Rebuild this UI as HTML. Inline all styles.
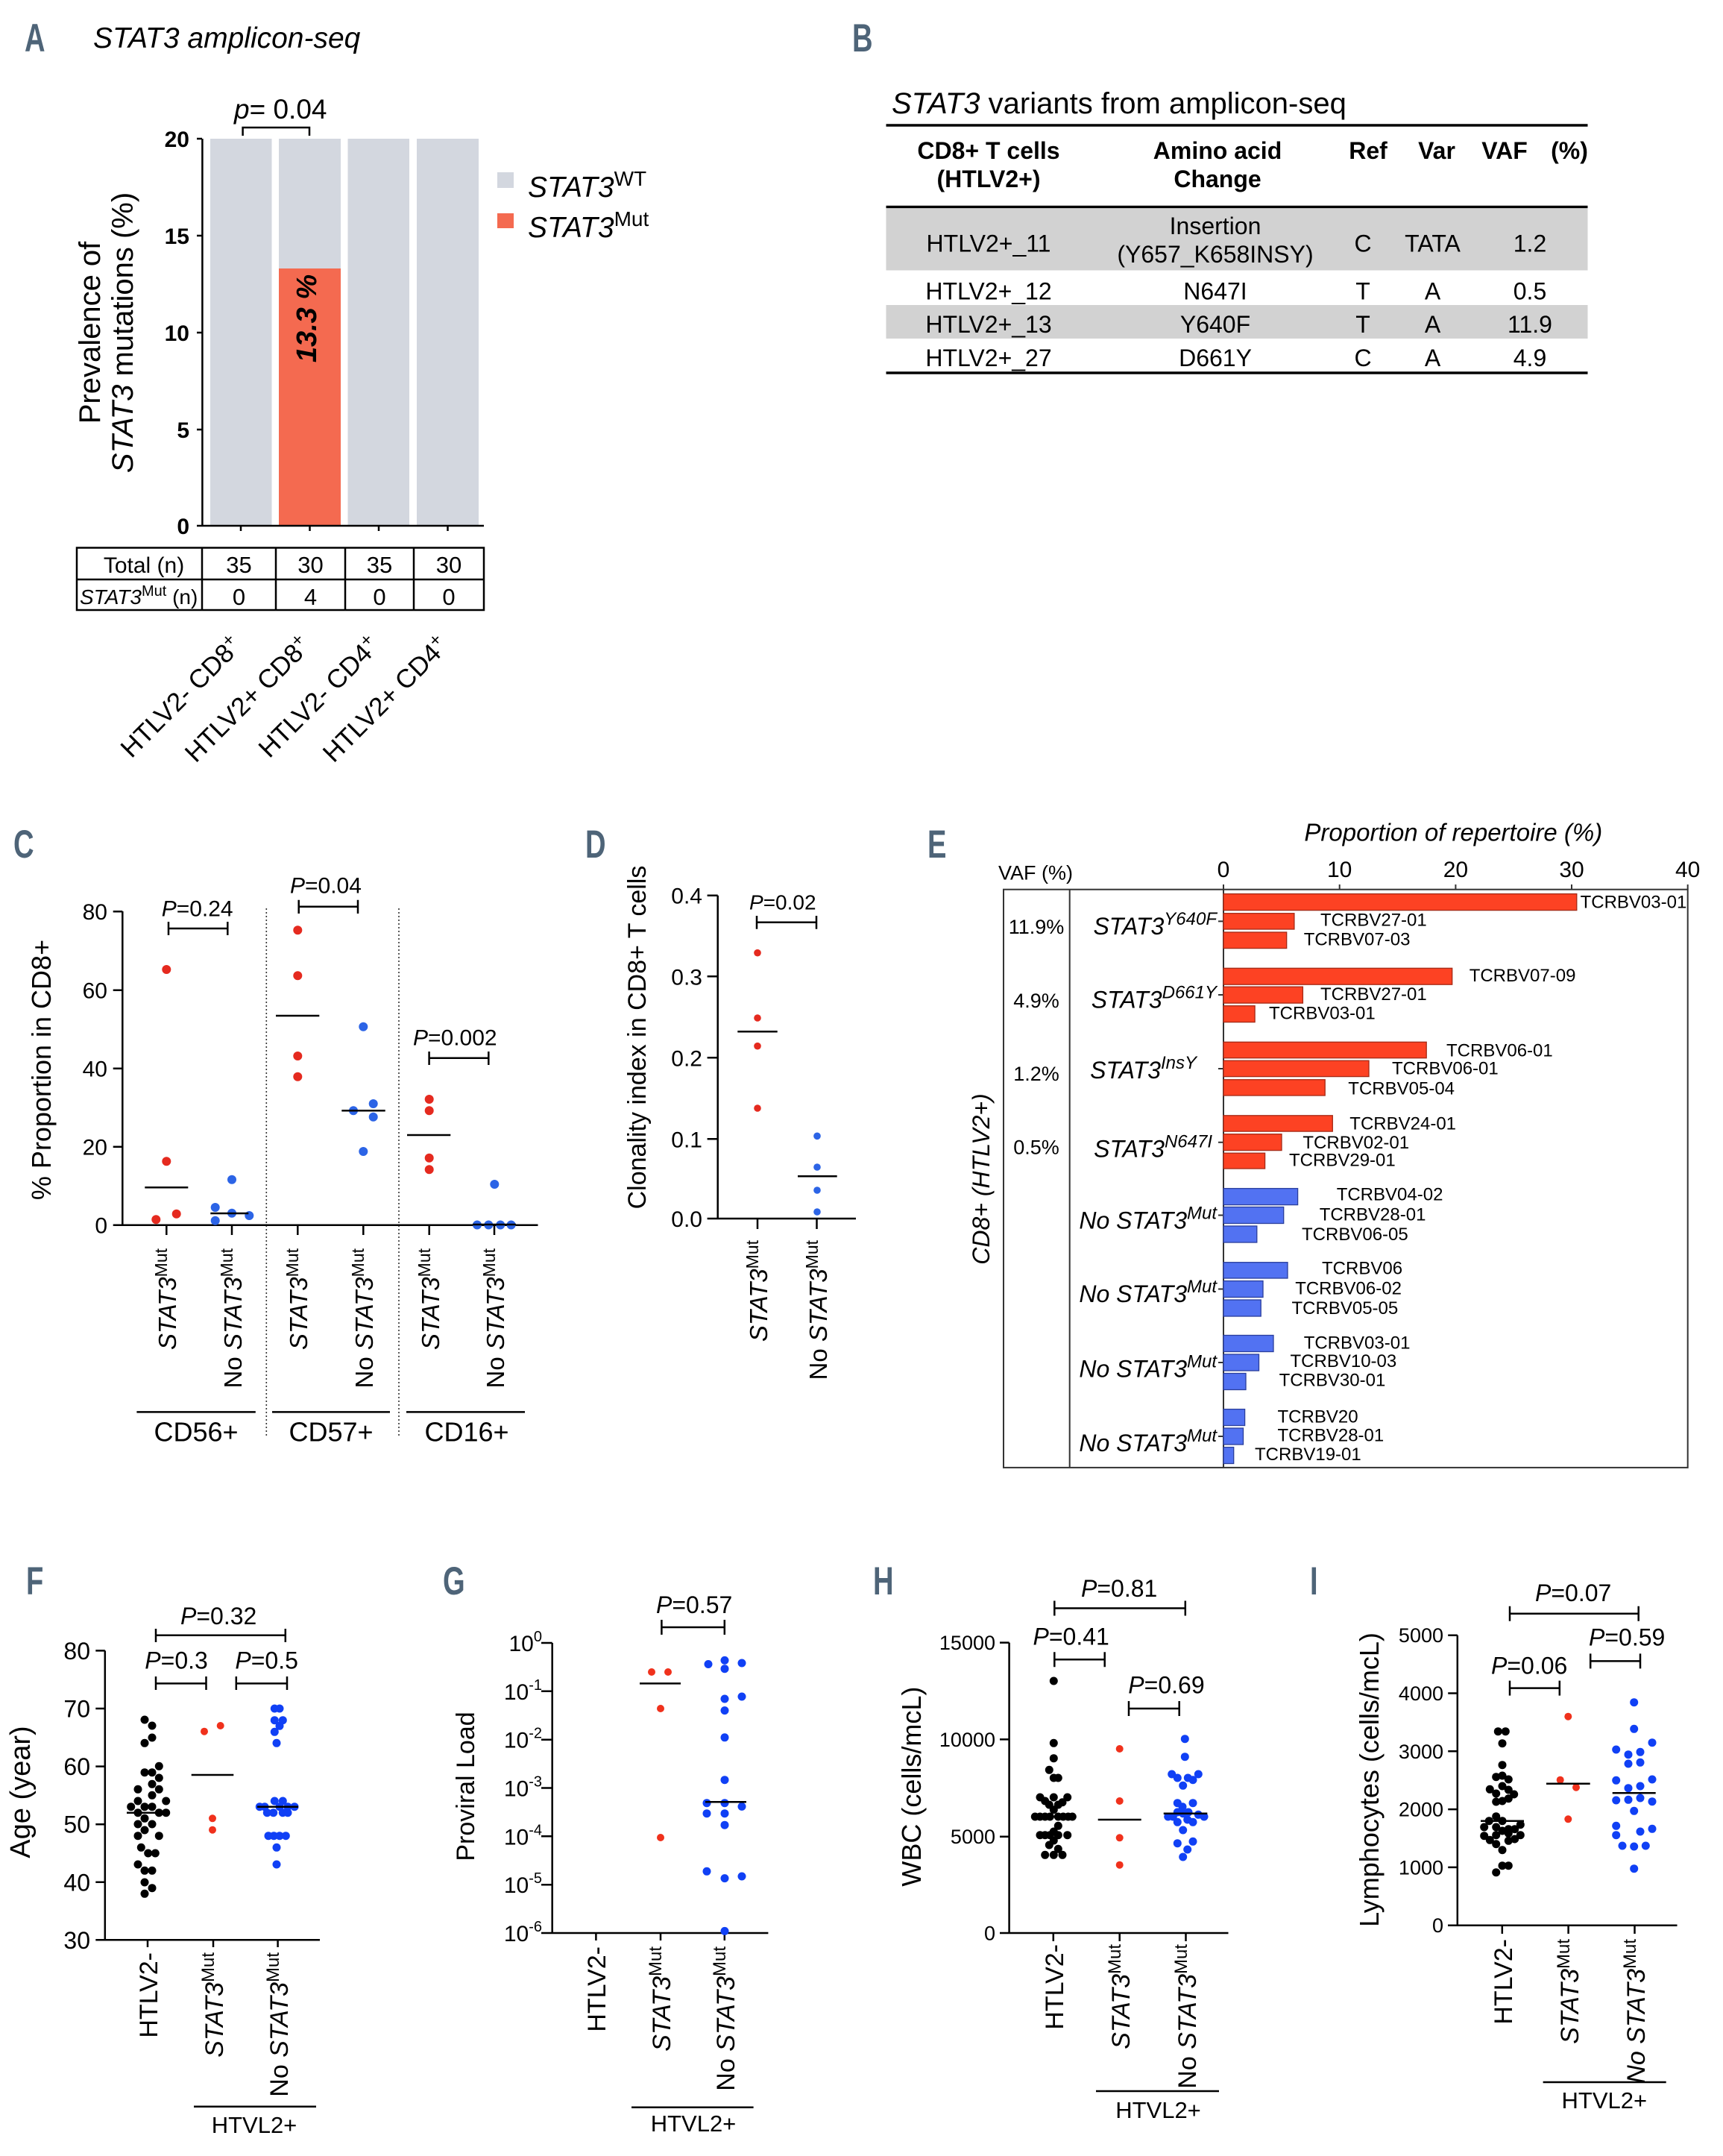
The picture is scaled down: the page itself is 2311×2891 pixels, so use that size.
<!DOCTYPE html>
<html><head><meta charset="utf-8"><style>
html,body{margin:0;padding:0;background:#fff;}
svg{display:block;}
text{font-family:"Liberation Sans",Arial,sans-serif;fill:#000;}
.lab{font-weight:bold;fill:#4e6478;font-size:53px;}
.it{font-style:italic;}
</style></head><body>
<svg xmlns="http://www.w3.org/2000/svg" width="2311" height="2891" viewBox="0 0 2311 2891">
<rect width="2311" height="2891" fill="#fff"/>

<!-- Panel labels -->
<text class="lab" transform="translate(33,69) scale(0.72,1)">A</text>
<text class="lab" transform="translate(1143,69) scale(0.72,1)">B</text>
<text class="lab" transform="translate(18,1150) scale(0.72,1)">C</text>
<text class="lab" transform="translate(785,1150) scale(0.72,1)">D</text>
<text class="lab" transform="translate(1244,1150) scale(0.72,1)">E</text>
<text class="lab" transform="translate(35,2138) scale(0.72,1)">F</text>
<text class="lab" transform="translate(594,2138) scale(0.72,1)">G</text>
<text class="lab" transform="translate(1171,2138) scale(0.72,1)">H</text>
<text class="lab" transform="translate(1757,2138) scale(0.72,1)">I</text>

<!-- ================= PANEL A ================= -->
<text x="125" y="64" font-size="39" class="it">STAT3 amplicon-seq</text>
<text x="314" y="159" font-size="37"><tspan class="it">p</tspan>= 0.04</text>
<path d="M325.6,182 V171 H415 V182" fill="none" stroke="#000" stroke-width="2.5"/>
<rect x="282" y="186" width="82.5" height="519" fill="#d3d7df"/>
<rect x="374" y="186" width="83" height="519" fill="#d3d7df"/>
<rect x="374" y="360" width="83" height="345" fill="#f46a50"/>
<rect x="466.5" y="186" width="82.5" height="519" fill="#d3d7df"/>
<rect x="559" y="186" width="83" height="519" fill="#d3d7df"/>
<path d="M271.4,186 V705 M268,705 H649 M264,186 H271 M264,316 H271 M264,446 H271 M264,576 H271 M264,705 H271 M323,705 V712 M415.5,705 V712 M508,705 V712 M600.5,705 V712" stroke="#000" stroke-width="2.5" fill="none"/>
<g font-size="30" font-weight="bold" text-anchor="end">
<text x="254" y="197">20</text><text x="254" y="327">15</text><text x="254" y="457">10</text><text x="254" y="587">5</text><text x="254" y="716">0</text>
</g>
<text transform="translate(424,427) rotate(-90)" text-anchor="middle" font-size="38" font-weight="bold" class="it">13.3 %</text>
<text transform="translate(134,446) rotate(-90)" text-anchor="middle" font-size="40">Prevalence of</text>
<text transform="translate(178,446) rotate(-90)" text-anchor="middle" font-size="40"><tspan class="it">STAT3</tspan> mutations (%)</text>
<rect x="667" y="231" width="22" height="21" fill="#d3d7df"/>
<text x="708" y="264" font-size="39"><tspan class="it">STAT3</tspan><tspan font-size="28" dy="-15">WT</tspan></text>
<rect x="667" y="286" width="22" height="20" fill="#f46a50"/>
<text x="708" y="318" font-size="39"><tspan class="it">STAT3</tspan><tspan font-size="28" dy="-15">Mut</tspan></text>
<rect x="103" y="734.5" width="546" height="83.5" fill="none" stroke="#000" stroke-width="2.5"/>
<path d="M103,777 H649 M271,734.5 V818 M370,734.5 V818 M463,734.5 V818 M555,734.5 V818" stroke="#000" stroke-width="2.5"/>
<text x="193" y="768" font-size="30" text-anchor="middle">Total (n)</text>
<g font-size="31" text-anchor="middle">
<text x="320.5" y="768">35</text><text x="416.5" y="768">30</text><text x="509" y="768">35</text><text x="602" y="768">30</text>
<text x="320.5" y="811">0</text><text x="416.5" y="811">4</text><text x="509" y="811">0</text><text x="602" y="811">0</text>
</g>
<text x="107" y="810" font-size="28"><tspan class="it">STAT3</tspan><tspan font-size="20" dy="-11">Mut</tspan><tspan dy="11"> (n)</tspan></text>
<g font-size="35" text-anchor="end">
<text transform="translate(326,868) rotate(-45)">HTLV2- CD8<tspan font-size="24" dy="-13">+</tspan></text>
<text transform="translate(418.5,868) rotate(-45)">HTLV2+ CD8<tspan font-size="24" dy="-13">+</tspan></text>
<text transform="translate(511,868) rotate(-45)">HTLV2- CD4<tspan font-size="24" dy="-13">+</tspan></text>
<text transform="translate(603.5,868) rotate(-45)">HTLV2+ CD4<tspan font-size="24" dy="-13">+</tspan></text>
</g>

<!-- ================= PANEL B ================= -->
<text x="1196" y="152" font-size="40"><tspan class="it">STAT3</tspan> variants from amplicon-seq</text>
<rect x="1188.5" y="280" width="941" height="82.5" fill="#d2d2d2"/>
<rect x="1188.5" y="409" width="941" height="45" fill="#d2d2d2"/>
<path d="M1188.5,168 H2129.5 M1188.5,277.5 H2129.5 M1188.5,500 H2129.5" stroke="#000" stroke-width="3.5"/>
<g font-size="32" font-weight="bold" text-anchor="middle">
<text x="1326" y="213">CD8+ T cells</text><text x="1326" y="251">(HTLV2+)</text>
<text x="1633" y="213">Amino acid</text><text x="1633" y="251">Change</text>
<text x="1835" y="213">Ref</text><text x="1927" y="213">Var</text><text x="2018" y="213">VAF</text><text x="2105" y="213">(%)</text>
</g>
<g font-size="32" text-anchor="middle">
<text x="1326" y="337.5">HTLV2+_11</text><text x="1630" y="314">Insertion</text><text x="1630" y="352">(Y657_K658INSY)</text>
<text x="1828" y="337.5">C</text><text x="1921.5" y="337.5">TATA</text><text x="2052" y="337.5">1.2</text>
<text x="1326" y="401.5">HTLV2+_12</text><text x="1630" y="401.5">N647I</text><text x="1828" y="401.5">T</text><text x="1921.5" y="401.5">A</text><text x="2052" y="401.5">0.5</text>
<text x="1326" y="446">HTLV2+_13</text><text x="1630" y="446">Y640F</text><text x="1828" y="446">T</text><text x="1921.5" y="446">A</text><text x="2052" y="446">11.9</text>
<text x="1326" y="491">HTLV2+_27</text><text x="1630" y="491">D661Y</text><text x="1828" y="491">C</text><text x="1921.5" y="491">A</text><text x="2052" y="491">4.9</text>
</g>

<!-- ================= PANEL C ================= -->
<path d="M357.3,1218 V1927 M535,1218 V1927" stroke="#333" stroke-width="1.6" stroke-dasharray="2,3"/>
<path d="M164.3,1222 V1642.7 M151.7,1642.7 H721.5 M151.7,1222.3 H164.3 M151.7,1327.7 H164.3 M151.7,1432.7 H164.3 M151.7,1537.7 H164.3 M223.3,1642.7 V1656 M311,1642.7 V1656 M399.3,1642.7 V1656 M487.3,1642.7 V1656 M575.7,1642.7 V1656 M663,1642.7 V1656" stroke="#000" stroke-width="2.5" fill="none"/>
<g font-size="30" text-anchor="end">
<text x="144" y="1233">80</text><text x="144" y="1338.7">60</text><text x="144" y="1443.7">40</text><text x="144" y="1548.7">20</text><text x="144" y="1653.7">0</text>
</g>
<text transform="translate(68,1434.5) rotate(-90)" text-anchor="middle" font-size="36">% Proportion in CD8+</text>
<g font-size="30">
<text x="216.7" y="1228.3"><tspan class="it">P</tspan>=0.24</text>
<text x="389" y="1197.7"><tspan class="it">P</tspan>=0.04</text>
<text x="554" y="1401.4"><tspan class="it">P</tspan>=0.002</text>
</g>
<path d="M226,1236 V1254 M226,1245 H305.3 M305.3,1236 V1254 M400.7,1206.7 V1225 M400.7,1215.7 H480 M480,1206.7 V1225 M575.6,1410 V1428 M575.6,1418.7 H655.3 M655.3,1410 V1428" stroke="#000" stroke-width="2.5" fill="none"/>
<g fill="#e52a1f">
<circle cx="223.3" cy="1300" r="6"/><circle cx="223.3" cy="1557.3" r="6"/><circle cx="209.3" cy="1635.3" r="6"/><circle cx="236.7" cy="1627.7" r="6"/>
<circle cx="399.3" cy="1247.3" r="6"/><circle cx="399.3" cy="1308.3" r="6"/><circle cx="399.3" cy="1416" r="6"/><circle cx="399.3" cy="1443.7" r="6"/>
<circle cx="575.7" cy="1474" r="6"/><circle cx="575.7" cy="1489.3" r="6"/><circle cx="575.7" cy="1552.7" r="6"/><circle cx="575.7" cy="1568.3" r="6"/>
</g>
<g fill="#2c64e6">
<circle cx="311" cy="1581.7" r="6"/><circle cx="288.7" cy="1619" r="6"/><circle cx="288.7" cy="1636.7" r="6"/><circle cx="311" cy="1626.7" r="6"/><circle cx="334.3" cy="1630" r="6"/>
<circle cx="487.3" cy="1376.7" r="6"/><circle cx="474" cy="1489.3" r="6"/><circle cx="500.7" cy="1480" r="6"/><circle cx="500.7" cy="1497.7" r="6"/><circle cx="487.3" cy="1544" r="6"/>
<circle cx="663.3" cy="1588" r="6"/><circle cx="640" cy="1642.5" r="6"/><circle cx="655.3" cy="1642.5" r="6"/><circle cx="671.2" cy="1642.5" r="6"/><circle cx="685.6" cy="1642.5" r="6"/>
</g>
<path d="M194.3,1592.3 H252.3 M282.3,1627 H333.3 M370,1362 H428.3 M458.3,1489.3 H516.7 M546,1522 H604.3 M634,1642 H692" stroke="#000" stroke-width="2.5"/>
<g font-size="33" text-anchor="end">
<text transform="translate(236,1674) rotate(-90)"><tspan class="it">STAT3</tspan><tspan font-size="23" dy="-12">Mut</tspan></text>
<text transform="translate(324,1674) rotate(-90)">No <tspan class="it">STAT3</tspan><tspan font-size="23" dy="-12">Mut</tspan></text>
<text transform="translate(412,1674) rotate(-90)"><tspan class="it">STAT3</tspan><tspan font-size="23" dy="-12">Mut</tspan></text>
<text transform="translate(500,1674) rotate(-90)">No <tspan class="it">STAT3</tspan><tspan font-size="23" dy="-12">Mut</tspan></text>
<text transform="translate(589,1674) rotate(-90)"><tspan class="it">STAT3</tspan><tspan font-size="23" dy="-12">Mut</tspan></text>
<text transform="translate(676,1674) rotate(-90)">No <tspan class="it">STAT3</tspan><tspan font-size="23" dy="-12">Mut</tspan></text>
</g>
<path d="M183.4,1893.4 H342.8 M365,1893.4 H523 M545,1893.4 H704" stroke="#000" stroke-width="2.5"/>
<g font-size="36" text-anchor="middle">
<text x="263" y="1932.4">CD56+</text><text x="444" y="1932.4">CD57+</text><text x="626" y="1932.4">CD16+</text>
</g>

<!-- ================= PANEL D ================= -->
<path d="M962.7,1200.7 V1634 M948.6,1634 H1148 M948.6,1200.7 H962.7 M948.6,1309.3 H962.7 M948.6,1418.3 H962.7 M948.6,1527.3 H962.7 M1016,1634 V1648 M1095.5,1634 V1648" stroke="#000" stroke-width="2.5" fill="none"/>
<g font-size="30" text-anchor="end">
<text x="942" y="1211.7">0.4</text><text x="942" y="1320.3">0.3</text><text x="942" y="1429.3">0.2</text><text x="942" y="1538.3">0.1</text><text x="942" y="1645">0.0</text>
</g>
<text transform="translate(866,1391) rotate(-90)" text-anchor="middle" font-size="34">Clonality index in CD8+ T cells</text>
<text x="1005" y="1219.3" font-size="28"><tspan class="it">P</tspan>=0.02</text>
<path d="M1015,1228 V1245.7 M1015,1236.7 H1095 M1095,1228 V1245.7" stroke="#000" stroke-width="2.5" fill="none"/>
<g fill="#e52a1f">
<circle cx="1016" cy="1277.7" r="4.8"/><circle cx="1016" cy="1365" r="4.8"/><circle cx="1016" cy="1402.7" r="4.8"/><circle cx="1016" cy="1486" r="4.8"/>
</g>
<g fill="#2c64e6">
<circle cx="1096" cy="1523.3" r="4.8"/><circle cx="1096" cy="1565" r="4.8"/><circle cx="1096" cy="1596" r="4.8"/><circle cx="1096" cy="1625" r="4.8"/>
</g>
<path d="M989.3,1383.3 H1042.7 M1070,1577.3 H1122.7" stroke="#000" stroke-width="2.5"/>
<g font-size="33" text-anchor="end">
<text transform="translate(1029,1663) rotate(-90)"><tspan class="it">STAT3</tspan><tspan font-size="23" dy="-12">Mut</tspan></text>
<text transform="translate(1109,1663) rotate(-90)">No <tspan class="it">STAT3</tspan><tspan font-size="23" dy="-12">Mut</tspan></text>
</g>

<!-- ================= PANEL E ================= -->
<text x="1749.4" y="1127.4" font-size="33" class="it">Proportion of repertoire (%)</text>
<g font-size="30" text-anchor="middle">
<text x="1641" y="1176">0</text><text x="1796.7" y="1176">10</text><text x="1952.4" y="1176">20</text><text x="2108" y="1176">30</text><text x="2263.7" y="1176">40</text>
</g>
<text x="1339" y="1179.6" font-size="27">VAF (%)</text>
<rect x="1346" y="1192.7" width="917.7" height="775.2" fill="none" stroke="#333" stroke-width="2"/>
<path d="M1434.7,1192.7 V1967.9 M1641,1192.7 V1967.9 M1641,1186 V1192.7 M1796.7,1186 V1192.7 M1952.4,1186 V1192.7 M2108,1186 V1192.7 M2263.7,1186 V1192.7 M1634,1235.4 H1641 M1634,1334 H1641 M1634,1433 H1641 M1634,1531.7 H1641 M1634,1629.5 H1641 M1634,1728.5 H1641 M1634,1827 H1641 M1634,1926 H1641" stroke="#333" stroke-width="2" fill="none"/>
<g fill="#fd4223" stroke="#a52a16" stroke-width="1.3">
<rect x="1641" y="1198.6" width="473.8" height="22"/><rect x="1641" y="1224.7" width="94.9" height="21.3"/><rect x="1641" y="1250" width="84.7" height="21.6"/>
<rect x="1641" y="1298.3" width="306.7" height="21.9"/><rect x="1641" y="1323.2" width="106.4" height="21.9"/><rect x="1641" y="1348.7" width="42.1" height="21.9"/>
<rect x="1641" y="1397.3" width="272.2" height="21.4"/><rect x="1641" y="1422.2" width="195" height="21.4"/><rect x="1641" y="1447.7" width="136.2" height="21.3"/>
<rect x="1641" y="1495.8" width="146.3" height="21.3"/><rect x="1641" y="1520.7" width="78" height="21.9"/><rect x="1641" y="1546.2" width="55.6" height="20.8"/>
</g>
<g fill="#5272f2" stroke="#2b3f9c" stroke-width="1.3">
<rect x="1641" y="1593.6" width="99.6" height="22"/><rect x="1641" y="1618.5" width="80.7" height="22"/><rect x="1641" y="1644" width="44.8" height="22"/>
<rect x="1641" y="1692.7" width="86" height="21.3"/><rect x="1641" y="1717.6" width="53" height="21.9"/><rect x="1641" y="1743" width="50.2" height="22"/>
<rect x="1641" y="1790.5" width="67" height="22"/><rect x="1641" y="1816" width="47.5" height="22"/><rect x="1641" y="1841.5" width="30" height="22"/>
<rect x="1641" y="1889.6" width="28.6" height="21.9"/><rect x="1641" y="1915" width="26.5" height="22"/><rect x="1641" y="1940.6" width="13.7" height="21.9"/>
</g>
<g font-size="24">
<text x="2119.6" y="1217.6">TCRBV03-01</text><text x="1771" y="1241.3">TCRBV27-01</text><text x="1748.7" y="1267.4">TCRBV07-03</text>
<text x="1970.7" y="1316">TCRBV07-09</text><text x="1771" y="1341">TCRBV27-01</text><text x="1702" y="1366.5">TCRBV03-01</text>
<text x="1940" y="1416.3">TCRBV06-01</text><text x="1867" y="1440.6">TCRBV06-01</text><text x="1808.3" y="1467.3">TCRBV05-04</text>
<text x="1810.3" y="1514.7">TCRBV24-01</text><text x="1747.4" y="1540.2">TCRBV02-01</text><text x="1729" y="1563.4">TCRBV29-01</text>
<text x="1792.7" y="1609.6">TCRBV04-02</text><text x="1769.7" y="1636.3">TCRBV28-01</text><text x="1746" y="1663">TCRBV06-05</text>
<text x="1773" y="1708.7">TCRBV06</text><text x="1737.2" y="1735.4">TCRBV06-02</text><text x="1732.5" y="1762">TCRBV05-05</text>
<text x="1748.7" y="1808.3">TCRBV03-01</text><text x="1730.5" y="1833.2">TCRBV10-03</text><text x="1715.6" y="1858.7">TCRBV30-01</text>
<text x="1713.5" y="1907.4">TCRBV20</text><text x="1713.5" y="1932.3">TCRBV28-01</text><text x="1683" y="1957.8">TCRBV19-01</text>
</g>
<g font-size="27" text-anchor="middle">
<text x="1390" y="1252">11.9%</text><text x="1390" y="1351">4.9%</text><text x="1390" y="1449">1.2%</text><text x="1390" y="1547.4">0.5%</text>
</g>
<g font-size="32" class="it" text-anchor="end">
<text x="1632" y="1253.2">STAT3<tspan font-size="24" dy="-13">Y640F</tspan></text>
<text x="1632" y="1351.6">STAT3<tspan font-size="24" dy="-13">D661Y</tspan></text>
<text x="1605" y="1446">STAT3<tspan font-size="24" dy="-13">InsY</tspan></text>
<text x="1626" y="1551.5">STAT3<tspan font-size="24" dy="-13">N647I</tspan></text>
<text x="1632" y="1647.6">No STAT3<tspan font-size="24" dy="-13">Mut</tspan></text>
<text x="1632" y="1746">No STAT3<tspan font-size="24" dy="-13">Mut</tspan></text>
<text x="1632" y="1846.3">No STAT3<tspan font-size="24" dy="-13">Mut</tspan></text>
<text x="1632" y="1946">No STAT3<tspan font-size="24" dy="-13">Mut</tspan></text>
</g>
<text transform="translate(1327,1581) rotate(-90)" text-anchor="middle" font-size="32" class="it">CD8+ (HTLV2+)</text>

<!-- ================= PANEL F ================= -->
<path d="M140.8,2213.4 V2601.3 M128.3,2601.3 H429 M128.3,2213.4 H140.8 M128.3,2291 H140.8 M128.3,2368.6 H140.8 M128.3,2446.2 H140.8 M128.3,2523.8 H140.8 M198,2601.3 V2611 M286,2601.3 V2611 M372.6,2601.3 V2611" stroke="#000" stroke-width="2.5" fill="none"/>
<g font-size="32" text-anchor="end">
<text x="121" y="2225">80</text><text x="121" y="2302.5">70</text><text x="121" y="2380">60</text><text x="121" y="2457.7">50</text><text x="121" y="2535.3">40</text><text x="121" y="2612.8">30</text>
</g>
<text transform="translate(40,2403) rotate(-90)" text-anchor="middle" font-size="38">Age (year)</text>
<g font-size="32">
<text x="242" y="2178"><tspan class="it">P</tspan>=0.32</text>
<text x="194.3" y="2237.7"><tspan class="it">P</tspan>=0.3</text>
<text x="315.4" y="2237.7"><tspan class="it">P</tspan>=0.5</text>
</g>
<path d="M209,2184 V2202 M209,2192.8 H382.8 M382.8,2184 V2202 M209,2248 V2266 M209,2257.4 H276.5 M276.5,2248 V2266 M316.8,2248 V2266 M316.8,2257.4 H385 M385,2248 V2266" stroke="#000" stroke-width="2.5" fill="none"/>
<g fill="#000">
<circle cx="194" cy="2306" r="5.5"/><circle cx="204" cy="2314" r="5.5"/><circle cx="204" cy="2330" r="5.5"/><circle cx="194" cy="2337.3" r="5.5"/>
<circle cx="213.3" cy="2368.3" r="5.5"/><circle cx="194" cy="2376.7" r="5.5"/><circle cx="204" cy="2376.7" r="5.5"/><circle cx="213.3" cy="2384" r="5.5"/>
<circle cx="204" cy="2392.3" r="5.5"/><circle cx="185" cy="2399.3" r="5.5"/><circle cx="213.3" cy="2399.3" r="5.5"/><circle cx="204" cy="2407.3" r="5.5"/>
<circle cx="185" cy="2415" r="5.5"/><circle cx="222.7" cy="2415" r="5.5"/><circle cx="175.7" cy="2422.7" r="5.5"/><circle cx="194" cy="2422.7" r="5.5"/>
<circle cx="204" cy="2422.7" r="5.5"/><circle cx="185" cy="2430.7" r="5.5"/><circle cx="213.3" cy="2430.7" r="5.5"/><circle cx="222.7" cy="2430.7" r="5.5"/>
<circle cx="194" cy="2438.3" r="5.5"/><circle cx="185" cy="2446" r="5.5"/><circle cx="204" cy="2446" r="5.5"/><circle cx="194" cy="2454" r="5.5"/>
<circle cx="185" cy="2461.7" r="5.5"/><circle cx="213.3" cy="2461.7" r="5.5"/><circle cx="189.3" cy="2477.3" r="5.5"/><circle cx="198.7" cy="2485" r="5.5"/>
<circle cx="208.3" cy="2485" r="5.5"/><circle cx="185" cy="2500" r="5.5"/><circle cx="194" cy="2508.3" r="5.5"/><circle cx="204" cy="2508.3" r="5.5"/>
<circle cx="194" cy="2524" r="5.5"/><circle cx="204" cy="2531.7" r="5.5"/><circle cx="194" cy="2539.3" r="5.5"/>
</g>
<g fill="#f0311c">
<circle cx="274" cy="2321.7" r="5"/><circle cx="295.7" cy="2314" r="5"/><circle cx="285" cy="2438.3" r="5"/><circle cx="285" cy="2453.7" r="5"/>
</g>
<g fill="#1040f5">
<circle cx="368.3" cy="2291" r="5.5"/><circle cx="375" cy="2291" r="5.5"/><circle cx="368.3" cy="2306.7" r="5.5"/><circle cx="379.3" cy="2306.7" r="5.5"/>
<circle cx="375" cy="2314.3" r="5.5"/><circle cx="368.3" cy="2322.3" r="5.5"/><circle cx="371" cy="2337.3" r="5.5"/>
<circle cx="368.3" cy="2415" r="5.5"/><circle cx="379.3" cy="2415" r="5.5"/><circle cx="348.3" cy="2422.7" r="5.5"/><circle cx="355" cy="2422.7" r="5.5"/>
<circle cx="375" cy="2422.7" r="5.5"/><circle cx="386" cy="2422.7" r="5.5"/><circle cx="395" cy="2422.7" r="5.5"/>
<circle cx="358.3" cy="2430.7" r="5.5"/><circle cx="366.7" cy="2430.7" r="5.5"/><circle cx="379.3" cy="2430.7" r="5.5"/><circle cx="386" cy="2430.7" r="5.5"/>
<circle cx="360" cy="2461.7" r="5.5"/><circle cx="367.3" cy="2461.7" r="5.5"/><circle cx="375" cy="2461.7" r="5.5"/><circle cx="383.3" cy="2461.7" r="5.5"/>
<circle cx="371" cy="2477.3" r="5.5"/><circle cx="371" cy="2500" r="5.5"/>
</g>
<path d="M170,2430.7 H227.3 M256.7,2380 H313.3 M345,2422.7 H400" stroke="#000" stroke-width="2.5"/>
<g font-size="34" text-anchor="end">
<text transform="translate(211,2618) rotate(-90)">HTLV2-</text>
<text transform="translate(299,2618) rotate(-90)"><tspan class="it">STAT3</tspan><tspan font-size="24" dy="-12">Mut</tspan></text>
<text transform="translate(386,2618) rotate(-90)">No <tspan class="it">STAT3</tspan><tspan font-size="24" dy="-12">Mut</tspan></text>
</g>
<path d="M260,2824.8 H424" stroke="#000" stroke-width="2.5"/>
<text x="341" y="2860" font-size="31" text-anchor="middle">HTVL2+</text>

<!-- ================= PANEL G ================= -->
<path d="M740.7,2203 V2592 M726,2592 H1030.4 M726,2203 H740.7 M726,2267.8 H740.7 M726,2332.7 H740.7 M726,2397.5 H740.7 M726,2462.3 H740.7 M726,2527.2 H740.7 M799.4,2592 V2602 M886,2592 V2602 M971.8,2592 V2602" stroke="#000" stroke-width="2.5" fill="none"/>
<g font-size="30" text-anchor="end">
<text x="727" y="2214">10<tspan font-size="20" dy="-13">0</tspan></text>
<text x="727" y="2278.8">10<tspan font-size="20" dy="-13">-1</tspan></text>
<text x="727" y="2343.7">10<tspan font-size="20" dy="-13">-2</tspan></text>
<text x="727" y="2408.5">10<tspan font-size="20" dy="-13">-3</tspan></text>
<text x="727" y="2473.3">10<tspan font-size="20" dy="-13">-4</tspan></text>
<text x="727" y="2538.2">10<tspan font-size="20" dy="-13">-5</tspan></text>
<text x="727" y="2603">10<tspan font-size="20" dy="-13">-6</tspan></text>
</g>
<text transform="translate(636,2395.5) rotate(-90)" text-anchor="middle" font-size="34">Proviral Load</text>
<text x="880" y="2162.8" font-size="32"><tspan class="it">P</tspan>=0.57</text>
<path d="M887.4,2172 V2192 M887.4,2182 H971.8 M971.8,2172 V2192" stroke="#000" stroke-width="2.5" fill="none"/>
<g fill="#f0311c">
<circle cx="874" cy="2242" r="5"/><circle cx="896" cy="2242" r="5"/><circle cx="886" cy="2291" r="5"/><circle cx="886" cy="2464" r="5"/>
</g>
<g fill="#1040f5">
<circle cx="950" cy="2231.5" r="5.5"/><circle cx="972" cy="2226.4" r="5.5"/><circle cx="995" cy="2230" r="5.5"/><circle cx="972" cy="2237.7" r="5.5"/>
<circle cx="972" cy="2278" r="5.5"/><circle cx="995" cy="2275" r="5.5"/><circle cx="972" cy="2293.6" r="5.5"/><circle cx="972" cy="2329.8" r="5.5"/>
<circle cx="972" cy="2386.7" r="5.5"/><circle cx="948" cy="2417.7" r="5.5"/><circle cx="972" cy="2417.7" r="5.5"/><circle cx="995" cy="2422.4" r="5.5"/>
<circle cx="948" cy="2431.7" r="5.5"/><circle cx="972" cy="2431.7" r="5.5"/><circle cx="972" cy="2447.2" r="5.5"/><circle cx="948" cy="2509.3" r="5.5"/>
<circle cx="972" cy="2518.6" r="5.5"/><circle cx="995" cy="2516" r="5.5"/><circle cx="972" cy="2589.4" r="5.5"/>
</g>
<path d="M858,2257.4 H913 M946,2416.2 H1001" stroke="#000" stroke-width="2.5"/>
<g font-size="34" text-anchor="end">
<text transform="translate(812,2610) rotate(-90)">HTLV2-</text>
<text transform="translate(899,2610) rotate(-90)"><tspan class="it">STAT3</tspan><tspan font-size="24" dy="-12">Mut</tspan></text>
<text transform="translate(985,2610) rotate(-90)">No <tspan class="it">STAT3</tspan><tspan font-size="24" dy="-12">Mut</tspan></text>
</g>
<path d="M847,2825.8 H1010.6" stroke="#000" stroke-width="2.5"/>
<text x="930" y="2858" font-size="31" text-anchor="middle">HTVL2+</text>

<!-- ================= PANEL H ================= -->
<path d="M1353.6,2202.6 V2592 M1341,2592 H1647.5 M1341,2202.6 H1353.6 M1341,2332.4 H1353.6 M1341,2462.7 H1353.6 M1412.8,2592 V2603 M1501.7,2592 V2603 M1590.5,2592 V2603" stroke="#000" stroke-width="2.5" fill="none"/>
<g font-size="27" text-anchor="end">
<text x="1335" y="2212">15000</text><text x="1335" y="2342">10000</text><text x="1335" y="2472">5000</text><text x="1335" y="2601.5">0</text>
</g>
<text transform="translate(1235,2395.6) rotate(-90)" text-anchor="middle" font-size="36">WBC (cells/mcL)</text>
<g font-size="32">
<text x="1450" y="2141"><tspan class="it">P</tspan>=0.81</text>
<text x="1385.5" y="2205.7"><tspan class="it">P</tspan>=0.41</text>
<text x="1513.3" y="2270.7"><tspan class="it">P</tspan>=0.69</text>
</g>
<path d="M1414.3,2146.5 V2166.5 M1414.3,2156.5 H1589.8 M1589.8,2146.5 V2166.5 M1414.3,2215.3 V2235.3 M1414.3,2225.3 H1481.7 M1481.7,2215.3 V2235.3 M1514,2281 V2301 M1514,2291 H1581.7 M1581.7,2281 V2301" stroke="#000" stroke-width="2.5" fill="none"/>
<g fill="#000">
<circle cx="1413.3" cy="2254" r="5.5"/><circle cx="1413.3" cy="2337.3" r="5.5"/><circle cx="1413.3" cy="2357.7" r="5.5"/><circle cx="1407.3" cy="2373.3" r="5.5"/>
<circle cx="1413.3" cy="2384" r="5.5"/><circle cx="1419.3" cy="2384" r="5.5"/><circle cx="1395" cy="2410" r="5.5"/><circle cx="1413.3" cy="2410" r="5.5"/>
<circle cx="1431.7" cy="2410" r="5.5"/><circle cx="1401.7" cy="2415" r="5.5"/><circle cx="1425" cy="2416.7" r="5.5"/><circle cx="1407.3" cy="2420" r="5.5"/>
<circle cx="1419.3" cy="2420" r="5.5"/><circle cx="1413.3" cy="2426.7" r="5.5"/><circle cx="1388.3" cy="2436" r="5.5"/><circle cx="1395" cy="2436" r="5.5"/>
<circle cx="1401.7" cy="2436" r="5.5"/><circle cx="1408.3" cy="2436" r="5.5"/><circle cx="1419.3" cy="2436" r="5.5"/><circle cx="1426" cy="2436" r="5.5"/>
<circle cx="1432.7" cy="2436" r="5.5"/><circle cx="1438.3" cy="2436" r="5.5"/><circle cx="1419.3" cy="2448.3" r="5.5"/><circle cx="1413.3" cy="2456" r="5.5"/>
<circle cx="1395" cy="2460.7" r="5.5"/><circle cx="1401.7" cy="2460.7" r="5.5"/><circle cx="1408.3" cy="2460.7" r="5.5"/><circle cx="1419.3" cy="2460.7" r="5.5"/>
<circle cx="1431.7" cy="2460.7" r="5.5"/><circle cx="1413.3" cy="2468" r="5.5"/><circle cx="1407.3" cy="2474" r="5.5"/><circle cx="1419.3" cy="2479.3" r="5.5"/>
<circle cx="1401.7" cy="2487.3" r="5.5"/><circle cx="1413.3" cy="2487.3" r="5.5"/><circle cx="1425" cy="2487.3" r="5.5"/>
</g>
<g fill="#f0311c">
<circle cx="1501.7" cy="2345" r="5"/><circle cx="1501.7" cy="2415" r="5"/><circle cx="1501.7" cy="2464.3" r="5"/><circle cx="1501.7" cy="2500.7" r="5"/>
</g>
<g fill="#1040f5">
<circle cx="1589.3" cy="2331.7" r="5.5"/><circle cx="1589.3" cy="2355.7" r="5.5"/><circle cx="1571.7" cy="2379" r="5.5"/><circle cx="1579.3" cy="2384" r="5.5"/>
<circle cx="1593.3" cy="2384" r="5.5"/><circle cx="1600" cy="2386.7" r="5.5"/><circle cx="1607.3" cy="2379" r="5.5"/><circle cx="1586.7" cy="2394.3" r="5.5"/>
<circle cx="1579.3" cy="2417.7" r="5.5"/><circle cx="1600" cy="2417.7" r="5.5"/><circle cx="1586" cy="2422.7" r="5.5"/><circle cx="1566.7" cy="2436" r="5.5"/>
<circle cx="1573.3" cy="2436" r="5.5"/><circle cx="1579.3" cy="2430" r="5.5"/><circle cx="1586.7" cy="2431.7" r="5.5"/><circle cx="1594" cy="2430" r="5.5"/>
<circle cx="1607.3" cy="2433.3" r="5.5"/><circle cx="1615" cy="2436" r="5.5"/><circle cx="1579.3" cy="2443.3" r="5.5"/><circle cx="1592.7" cy="2440" r="5.5"/>
<circle cx="1600" cy="2443.3" r="5.5"/><circle cx="1586.7" cy="2454" r="5.5"/><circle cx="1579.3" cy="2471.7" r="5.5"/><circle cx="1600" cy="2469.3" r="5.5"/>
<circle cx="1592.7" cy="2480" r="5.5"/><circle cx="1586.7" cy="2490" r="5.5"/>
</g>
<path d="M1385,2436 H1442 M1472.7,2440 H1530.7 M1560.7,2431.7 H1619.3" stroke="#000" stroke-width="2.5"/>
<g font-size="34" text-anchor="end">
<text transform="translate(1426,2607) rotate(-90)">HTLV2-</text>
<text transform="translate(1515,2607) rotate(-90)"><tspan class="it">STAT3</tspan><tspan font-size="24" dy="-12">Mut</tspan></text>
<text transform="translate(1604,2607) rotate(-90)">No <tspan class="it">STAT3</tspan><tspan font-size="24" dy="-12">Mut</tspan></text>
</g>
<path d="M1470,2804 H1635" stroke="#000" stroke-width="2.5"/>
<text x="1553.5" y="2840" font-size="31" text-anchor="middle">HTVL2+</text>

<!-- ================= PANEL I ================= -->
<path d="M1954.8,2192.7 V2581.7 M1942,2581.7 H2249.5 M1942.2,2192.7 H1954.8 M1942.2,2270.5 H1954.8 M1942.2,2348.3 H1954.8 M1942.2,2426.1 H1954.8 M1942.2,2503.9 H1954.8 M2014.8,2581.7 V2593 M2103.6,2581.7 V2593 M2192.5,2581.7 V2593" stroke="#000" stroke-width="2.5" fill="none"/>
<g font-size="27" text-anchor="end">
<text x="1936" y="2202.2">5000</text><text x="1936" y="2280">4000</text><text x="1936" y="2357.8">3000</text><text x="1936" y="2435.6">2000</text><text x="1936" y="2513.4">1000</text><text x="1936" y="2591.2">0</text>
</g>
<text transform="translate(1849,2386.5) rotate(-90)" text-anchor="middle" font-size="36">Lymphocytes (cells/mcL)</text>
<g font-size="32">
<text x="2059" y="2147.2"><tspan class="it">P</tspan>=0.07</text>
<text x="2131" y="2206.7"><tspan class="it">P</tspan>=0.59</text>
<text x="2000" y="2244.5"><tspan class="it">P</tspan>=0.06</text>
</g>
<path d="M2025,2153.8 V2173.8 M2025,2163.8 H2197.7 M2197.7,2153.8 V2173.8 M2133.2,2217.4 V2237.4 M2133.2,2227.4 H2200 M2200,2217.4 V2237.4 M2025,2253.6 V2273.6 M2025,2263.6 H2091.8 M2091.8,2253.6 V2273.6" stroke="#000" stroke-width="2.5" fill="none"/>
<g fill="#000">
<circle cx="2009.3" cy="2321.7" r="5.5"/><circle cx="2019.3" cy="2321.7" r="5.5"/><circle cx="2015" cy="2337.7" r="5.5"/><circle cx="2015" cy="2366.7" r="5.5"/>
<circle cx="2006.7" cy="2382.7" r="5.5"/><circle cx="2015" cy="2381" r="5.5"/><circle cx="2023.3" cy="2386" r="5.5"/><circle cx="1998.3" cy="2399.3" r="5.5"/>
<circle cx="2006.7" cy="2405" r="5.5"/><circle cx="2015" cy="2395" r="5.5"/><circle cx="2023.3" cy="2400" r="5.5"/><circle cx="2030.7" cy="2406" r="5.5"/>
<circle cx="2006.7" cy="2416" r="5.5"/><circle cx="2015" cy="2415" r="5.5"/><circle cx="2023.3" cy="2411.7" r="5.5"/><circle cx="2006.7" cy="2435.7" r="5.5"/>
<circle cx="1997.3" cy="2441.7" r="5.5"/><circle cx="2015" cy="2441.7" r="5.5"/><circle cx="1990.7" cy="2450" r="5.5"/><circle cx="2006.7" cy="2450" r="5.5"/>
<circle cx="2023.3" cy="2452.7" r="5.5"/><circle cx="2031.7" cy="2452.7" r="5.5"/><circle cx="2039.3" cy="2446.7" r="5.5"/><circle cx="1990.7" cy="2461.7" r="5.5"/>
<circle cx="2006.7" cy="2460.7" r="5.5"/><circle cx="2015" cy="2455" r="5.5"/><circle cx="2023.3" cy="2458.3" r="5.5"/><circle cx="2031.7" cy="2466" r="5.5"/>
<circle cx="2039.3" cy="2460.7" r="5.5"/><circle cx="1998.3" cy="2467.3" r="5.5"/><circle cx="2006.7" cy="2472.7" r="5.5"/><circle cx="2023.3" cy="2468.3" r="5.5"/>
<circle cx="2015" cy="2480.7" r="5.5"/><circle cx="2015" cy="2501.7" r="5.5"/><circle cx="2023.3" cy="2501.7" r="5.5"/><circle cx="2006.7" cy="2510.7" r="5.5"/>
</g>
<g fill="#f0311c">
<circle cx="2103.3" cy="2301.7" r="5"/><circle cx="2092.7" cy="2386.7" r="5"/><circle cx="2114" cy="2396.7" r="5"/><circle cx="2103.3" cy="2439.3" r="5"/>
</g>
<g fill="#1040f5">
<circle cx="2191.7" cy="2282.7" r="5.5"/><circle cx="2191.7" cy="2318.3" r="5.5"/><circle cx="2216" cy="2336.7" r="5.5"/><circle cx="2167.7" cy="2346" r="5.5"/>
<circle cx="2184" cy="2352.7" r="5.5"/><circle cx="2200" cy="2349.3" r="5.5"/><circle cx="2184" cy="2365" r="5.5"/><circle cx="2200" cy="2363.3" r="5.5"/>
<circle cx="2167.7" cy="2387.3" r="5.5"/><circle cx="2216" cy="2386" r="5.5"/><circle cx="2184" cy="2397.7" r="5.5"/><circle cx="2200" cy="2395" r="5.5"/>
<circle cx="2167.7" cy="2414" r="5.5"/><circle cx="2184" cy="2413.3" r="5.5"/><circle cx="2200" cy="2411" r="5.5"/><circle cx="2216" cy="2415.7" r="5.5"/>
<circle cx="2191.7" cy="2428.3" r="5.5"/><circle cx="2167.7" cy="2448.3" r="5.5"/><circle cx="2216" cy="2452.3" r="5.5"/><circle cx="2200" cy="2456" r="5.5"/>
<circle cx="2167.7" cy="2460.7" r="5.5"/><circle cx="2176" cy="2475" r="5.5"/><circle cx="2191.7" cy="2476" r="5.5"/><circle cx="2207.3" cy="2475" r="5.5"/>
<circle cx="2191.7" cy="2505.7" r="5.5"/>
</g>
<path d="M1986,2441.7 H2044 M2074,2391.7 H2132.7 M2162.7,2404.3 H2220.7" stroke="#000" stroke-width="2.5"/>
<g font-size="34" text-anchor="end">
<text transform="translate(2028,2600) rotate(-90)">HTLV2-</text>
<text transform="translate(2117,2600) rotate(-90)"><tspan class="it">STAT3</tspan><tspan font-size="24" dy="-12">Mut</tspan></text>
<text transform="translate(2206,2600) rotate(-90)"><tspan class="it">No STAT3</tspan><tspan font-size="24" dy="-12">Mut</tspan></text>
</g>
<path d="M2069.6,2792 H2234.7" stroke="#000" stroke-width="2.5"/>
<text x="2151.8" y="2827" font-size="31" text-anchor="middle">HTVL2+</text>

</svg>
</body></html>
